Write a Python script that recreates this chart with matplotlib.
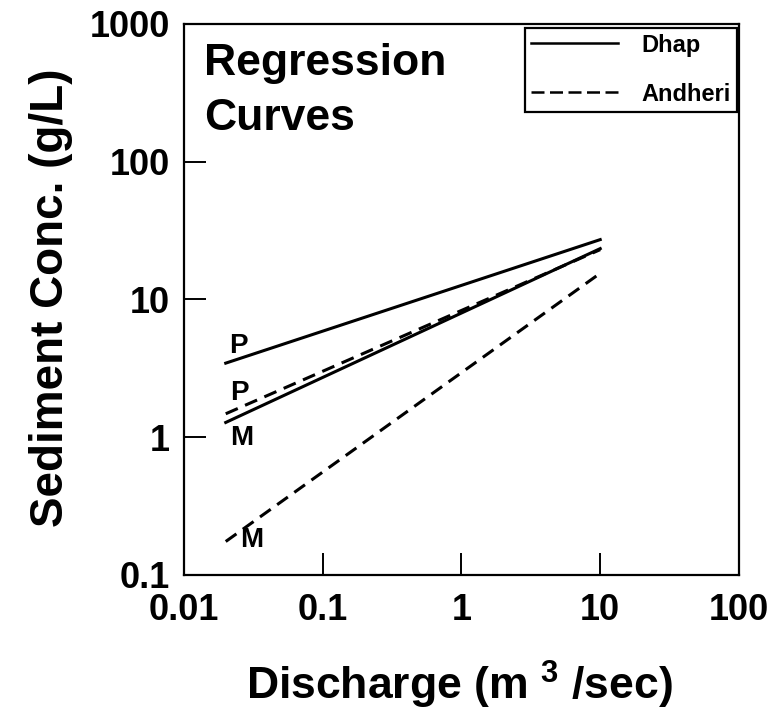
#!/usr/bin/env python3

"""Regression curves of sediment concentration against discharge."""

import matplotlib
matplotlib.use('Agg')
import matplotlib.pyplot as plt
from matplotlib.lines import Line2D
from matplotlib.ticker import FixedLocator, FixedFormatter, NullLocator

# regression end points (discharge in m3/sec, concentration in g/L)
discharge = [0.02, 10]
dhap_p = [3.45, 27.2]
dhap_m = [1.28, 23.4]
andheri_p = [1.48, 23.0]
andheri_m = [0.175, 15.5]

x_ticks = [0.01, 0.1, 1, 10, 100]
x_labels = ['0.01', '0.1', '1', '10', '100']
y_ticks = [0.1, 1, 10, 100, 1000]
y_labels = ['0.1', '1', '10', '100', '1000']

plt.rcParams['font.family'] = ['Liberation Sans', 'DejaVu Sans']
plt.rcParams['font.weight'] = 'bold'
plt.rcParams['mathtext.fontset'] = 'custom'
plt.rcParams['mathtext.rm'] = 'Liberation Sans:bold'
plt.rcParams['mathtext.default'] = 'rm'

fig = plt.figure(figsize=(7.72, 7.11), dpi=100)
ax = fig.add_axes([0.2383, 0.1913, 0.7189, 0.775])

dash = (0, (4.3, 2.6))
ax.plot(discharge, dhap_p, '-', color='black', lw=2.2)
ax.plot(discharge, dhap_m, '-', color='black', lw=2.2)
ax.plot(discharge, andheri_p, linestyle=dash, color='black', lw=2.2)
ax.plot(discharge, andheri_m, linestyle=dash, color='black', lw=2.2)

ax.set_xscale('log')
ax.set_yscale('log')
ax.set_xlim(0.01, 100)
ax.set_ylim(0.1, 1000)
ax.xaxis.set_major_locator(FixedLocator(x_ticks))
ax.xaxis.set_major_formatter(FixedFormatter(x_labels))
ax.yaxis.set_major_locator(FixedLocator(y_ticks))
ax.yaxis.set_major_formatter(FixedFormatter(y_labels))
ax.xaxis.set_minor_locator(NullLocator())
ax.yaxis.set_minor_locator(NullLocator())
ax.tick_params(direction='in', length=16, width=1.4, labelsize=26)
ax.tick_params(axis='x', pad=13)
ax.tick_params(axis='y', pad=10)
for s in ax.spines.values():
    s.set_linewidth(1.6)

ax.set_xlabel('Discharge (m $^{3}$ /sec)', fontsize=32, fontweight='bold')
ax.xaxis.set_label_coords(0.497, -0.152)
ax.set_ylabel('Sediment Conc. (g/L)', fontsize=33, fontweight='bold')
ax.yaxis.set_label_coords(-0.2, 0.503)

# curve labels
ax.text(0.0245, 4.6, 'P', fontsize=20, fontweight='bold', ha='center', va='center')
ax.text(0.025, 2.08, 'P', fontsize=20, fontweight='bold', ha='center', va='center')
ax.text(0.026, 0.99, 'M', fontsize=20, fontweight='bold', ha='center', va='center')
ax.text(0.031, 0.18, 'M', fontsize=20, fontweight='bold', ha='center', va='center')

ax.text(0.036, 0.965, 'Regression\nCurves', transform=ax.transAxes,
        fontsize=32, fontweight='bold', ha='left', va='top', linespacing=1.42)

handles = [Line2D([], [], color='black', lw=1.8, linestyle='-'),
           Line2D([], [], color='black', lw=1.8, linestyle=(0, (5.2, 2.2)))]
leg = ax.legend(handles, ['Dhap', 'Andheri'], loc='upper right',
                bbox_to_anchor=(0.9964, 0.993), fontsize=17, frameon=True,
                fancybox=False, framealpha=1, edgecolor='black',
                handlelength=3.7, labelspacing=1.1, borderpad=0.25,
                handletextpad=1.0, borderaxespad=0)
leg.get_frame().set_linewidth(1.6)
for t in leg.get_texts():
    t.set_fontweight('bold')

fig.savefig('out.png', dpi=100)
